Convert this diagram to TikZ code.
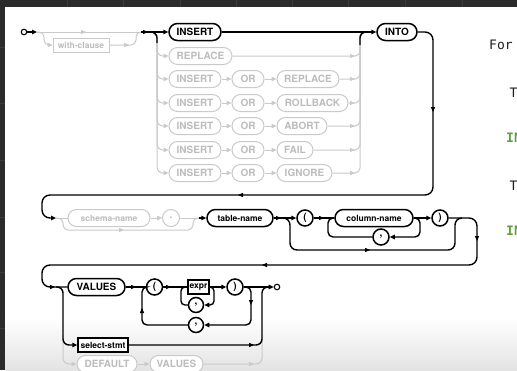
\documentclass[tikz,border=0pt]{standalone}
\usepackage{fontspec}
\setmainfont{TeX Gyre Heros}
\newfontfamily\codefont{DejaVu Sans Mono}
\usetikzlibrary{arrows.meta}
\definecolor{gline}{HTML}{CACACA}
\definecolor{gtext}{HTML}{BCBCBC}
\definecolor{panel}{HTML}{2B2B2B}
\definecolor{gridln}{HTML}{3B3B3B}
\definecolor{kwgreen}{HTML}{62A03A}
\definecolor{codeink}{HTML}{1E1E1E}
\tikzset{
  ink/.style={draw=black, line width=1.4pt},
  ghost/.style={draw=gline, line width=1pt},
  arr/.style={-{Triangle[length=5pt,width=4.4pt]}},
  kw/.style={rectangle, rounded corners=8.5pt, minimum height=17pt, inner xsep=0pt, inner ysep=0pt,
    font=\fontsize{10}{12}\selectfont\bfseries},
  nm/.style={kw, font=\fontsize{8.5}{10}\selectfont\bfseries},
  nt/.style={rectangle, minimum height=14pt, inner xsep=0pt, inner ysep=0pt,
    font=\fontsize{8.5}{10}\selectfont\bfseries},
  sym/.style={circle, minimum size=16pt, inner sep=0pt, font=\fontsize{10}{12}\selectfont\bfseries},
  hot/.style={draw=black, line width=1.5pt, text=black, fill=white},
  cold/.style={draw=gline, line width=1pt, text=gtext, fill=white},
  endpt/.style={circle, draw=black, line width=1.1pt, fill=white, minimum size=5.5pt, inner sep=0pt},
  srctext/.style={anchor=base west, inner sep=0pt, font=\codefont\fontsize{13}{15}\selectfont},
  mtip/.pic={\fill (0,0) -- (-5,2.2) -- (-5,-2.2) -- cycle;},
}
\begin{document}
\begin{tikzpicture}[x=1pt,y=-1pt]
\useasboundingbox (0,0) rectangle (517,370);
% editor frame and page
\fill[panel] (0,0) rectangle (517,7);
\fill[panel] (0,0) rectangle (5,370);
\foreach \gx in {67,123,180,236,292,348,405,462} \draw[gridln, line width=0.6pt] (\gx,0) -- (\gx,7);
\foreach \gy in {47,103,160,217,272,328} \draw[gridln, line width=0.6pt] (0,\gy) -- (5,\gy);
\fill[white] (5,7) rectangle (517,370);
\shade[top color=white, bottom color=black!11] (5,318) rectangle (517,370);

% source text beside the diagram
\node[srctext, text=codeink] (t1) at (489,49) {For};
\node[srctext, text=codeink] (t2) at (509.5,97) {T};
\node[srctext, text=kwgreen, font=\codefont\bfseries\fontsize{13}{15}\selectfont] (t3) at (506,142) {IN};
\node[srctext, text=codeink] (t4) at (509.5,190) {T};
\node[srctext, text=kwgreen, font=\codefont\bfseries\fontsize{13}{15}\selectfont] (t5) at (506,235) {IN};

% ---------- first line: [with-clause] INSERT ... INTO
\node[endpt] (s0) at (24,32) {};
\node[nt, cold, minimum width=56pt] (wcl) at (81,45) {with-clause};
\node[kw, hot, minimum width=52pt] (ins) at (195,32) {INSERT};
\node[kw, cold, minimum width=63pt] (rep) at (200.5,56) {REPLACE};
\node[kw, hot, minimum width=40pt] (into) at (397,32) {INTO};
\coordinate (wa) at (37,32);
\coordinate (wb) at (141,32);
\coordinate (ja) at (150,32);
\coordinate (jb) at (368,32);

\draw[ghost] (wa) -- (wb);
\pic[color=gline] at (86,32) {mtip};
\draw[ghost, arr, rounded corners=5pt] (wa) -- (44,32) -- (44,45) -- (wcl.west);
\draw[ghost, rounded corners=5pt] (wcl.east) -- (136,45) -- (136,32) -- (wb);
\pic[color=gline] at (129,45) {mtip};

\draw[ghost, arr, rounded corners=6pt] (ja) -- (157,32) -- (157,56) -- (rep.west);
\draw[ghost, rounded corners=5pt] (rep.east) -- (360,56) -- (360,32) -- (jb);
\pic[color=gline] at (355,56) {mtip};

\foreach \n/\y/\c/\w/\t in {1/79/308/62/REPLACE, 2/103/312.5/71/ROLLBACK, 3/126/302/50/ABORT,
                            4/150/295/36/FAIL, 5/173/304.5/55/IGNORE} {
  \node[kw, cold, minimum width=52pt] (i\n) at (195,\y) {INSERT};
  \node[kw, cold, minimum width=32pt] (o\n) at (248,\y) {OR};
  \node[kw, cold, minimum width=\w pt] (k\n) at (\c,\y) {\t};
  \draw[ghost, arr, rounded corners=6pt] (ja) -- (157,32) -- (157,\y) -- (i\n.west);
  \draw[ghost, arr] (i\n) -- (o\n);
  \draw[ghost, arr] (o\n) -- (k\n);
  \draw[ghost, rounded corners=5pt] (k\n.east) -- (360,\y) -- (360,32) -- (jb);
  \pic[color=gline] at (355,\y) {mtip};
}

\draw[ink, arr] (s0) -- (wa);
\draw[ink, arr] (wb) -- (ins.west);
\pic at (148,32) {mtip};
\draw[ink, rounded corners=6pt] (ja) -- (157,32) -- (157,43);
\draw[ink, rounded corners=6pt] (360,45) -- (360,32) -- (jb);
\draw[ink, arr] (ins) -- (into);
\draw[ink, arr, rounded corners=8pt] (into.east) -- (433,32) -- (433,195) -- (42,195) -- (42,218) -- (56,218);
\pic[rotate=-90] at (433,112) {mtip};
\pic[rotate=180] at (238,195) {mtip};

% ---------- second line: [schema-name .] table-name [( column-name, ... )]
\node[nm, cold, minimum width=82pt] (sch) at (109,218) {schema-name};
\node[sym, cold, minimum size=17pt] (dot) at (171,218) {.};
\node[nm, hot, minimum width=66pt] (tab) at (240,218) {table-name};
\node[sym, hot] (lp) at (305,218) {(};
\node[nm, hot, minimum width=78pt] (col) at (374,218) {column-name};
\node[sym, hot] (rp) at (440,218) {)};
\node[sym, hot] (cm) at (381,237) {,};
\coordinate (ra) at (56,218);
\coordinate (rb) at (199,218);

\draw[ghost] (ra) -- (sch.west);
\draw[ghost, arr] (sch) -- (dot);
\draw[ghost] (dot) -- (rb);
\draw[ghost, rounded corners=5pt] (ra) -- (63,218) -- (63,230) -- (193,230) -- (193,218) -- (rb);
\pic[color=gline] at (124,230) {mtip};

\draw[ink, arr] (rb) -- (tab.west);
\draw[ink, arr] (tab) -- (lp);
\pic at (281,218) {mtip};
\draw[ink, rounded corners=7pt] (284,218) -- (290,218) -- (290,250) -- (455,250) -- (455,218) -- (462,218);
\pic at (370,250) {mtip};
\draw[ink] (lp) -- (col);
\pic at (324,218) {mtip};
\draw[ink, arr, rounded corners=5pt] (col.east) -- (420,218) -- (420,237) -- (cm.east);
\draw[ink, rounded corners=5pt] (cm.west) -- (328,237) -- (328,218) -- (col.west);
\draw[ink, arr] (col) -- (rp);

% ---------- third line: VALUES (expr, ...), ... | select-stmt | DEFAULT VALUES
\node[kw, hot, minimum width=57pt] (vals) at (96.5,287) {VALUES};
\node[sym, hot] (lp2) at (154.5,287) {(};
\node[nt, hot, minimum width=21pt] (expr) at (198.5,287) {expr};
\node[sym, hot] (rp2) at (235,287) {)};
\node[sym, hot, minimum size=15pt] (ic) at (196,305) {,};
\node[sym, hot, minimum size=15pt] (oc) at (196,325) {,};
\node[endpt] (fin) at (277,287) {};
\node[nt, hot, minimum width=50pt] (ss) at (103,345) {select-stmt};
\node[kw, cold, minimum width=60pt] (def) at (107,364) {DEFAULT};
\node[kw, cold, minimum width=53pt] (val2) at (176.5,364) {VALUES};

\draw[ghost, arr, rounded corners=6pt] (63,335) -- (63,364) -- (def.west);
\draw[ghost, arr] (def) -- (val2);
\draw[ghost, rounded corners=6pt] (val2.east) -- (262,364) -- (262,335);
\pic[color=gline] at (254,364) {mtip};

\draw[ink, rounded corners=8pt] (rp.east) -- (477,218) -- (477,265) -- (42,265) -- (42,287) -- (vals.west);
\pic[rotate=-90] at (477,241) {mtip};
\pic[rotate=180] at (262,265) {mtip};
\pic at (55,287) {mtip};
\draw[ink] (vals) -- (lp2);
\pic at (136,287) {mtip};
\draw[ink] (lp2) -- (expr);
\pic at (171,287) {mtip};
\draw[ink, arr] (expr) -- (rp2);
\draw[ink, arr, rounded corners=4pt] (expr.east) -- (214,287) -- (214,305) -- (ic.east);
\draw[ink, rounded corners=4pt] (ic.west) -- (181,305) -- (181,287) -- (expr.west);
\draw[ink, arr, rounded corners=5pt] (rp2.east) -- (251,287) -- (251,325) -- (oc.east);
\draw[ink, rounded corners=5pt] (oc.west) -- (142,325) -- (142,287) -- (lp2.west);
\pic[rotate=-90] at (251,305) {mtip};
\pic[rotate=90] at (142,308) {mtip};
\draw[ink, arr] (rp2) -- (fin);
\draw[ink, arr, rounded corners=6pt] (56,287) -- (63,287) -- (63,345) -- (ss.west);
\draw[ink, rounded corners=6pt] (ss.east) -- (262,345) -- (262,287) -- (269,287);
\pic at (254,345) {mtip};
\end{tikzpicture}
\end{document}
